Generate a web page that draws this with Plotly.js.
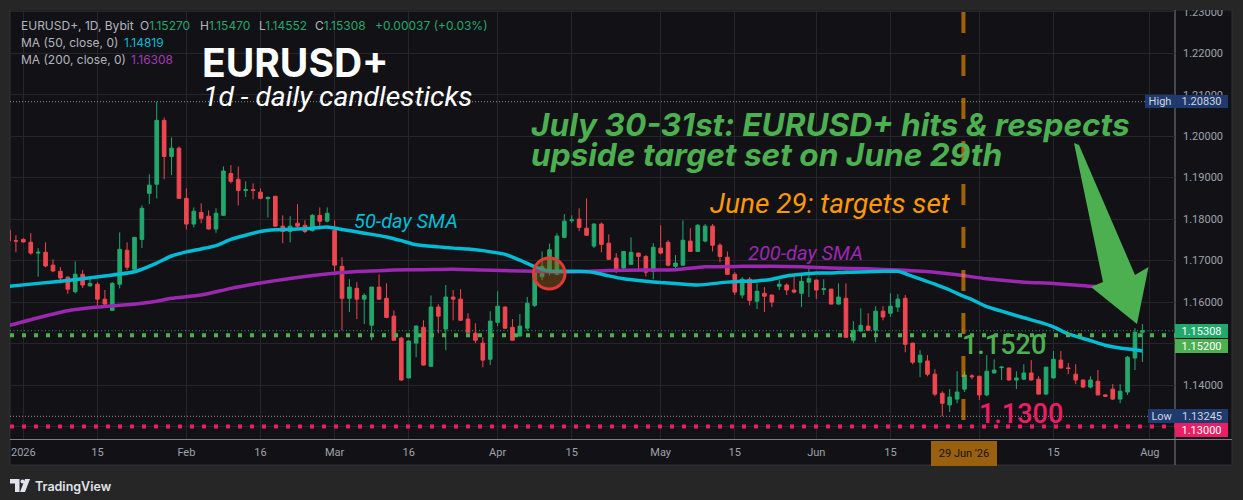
<!DOCTYPE html>
<html><head><meta charset="utf-8">
<script src="https://cdn.plot.ly/plotly-3.0.1.min.js"></script>
<style>html,body{margin:0;padding:0;background:#262626;overflow:hidden}#chart{width:1243px;height:500px}</style>
</head><body><div id="chart"></div>
<script>
// ---------- DATA ----------
const openP = [1.1773,1.1748,1.1751,1.1744,1.1718,1.1720,1.1689,1.1674,1.1660,1.1625,
1.1667,1.1639,1.1643,1.1607,1.1580,1.1643,1.1725,1.1679,1.1751,1.1862,
1.1884,1.2038,1.1951,1.1971,1.1850,1.1788,1.1816,1.1807,1.1776,1.1809,
1.1910,1.1896,1.1869,1.1871,1.1865,1.1849,1.1855,1.1783,1.1770,1.1790,
1.1785,1.1772,1.1809,1.1795,1.1773,1.1686,1.1609,1.1633,1.1607,1.1544,
1.1636,1.1609,1.1566,1.1513,1.1417,1.1501,1.1539,1.1445,1.1588,1.1535,
1.1612,1.1607,1.1559,1.1525,1.1501,1.1462,1.1551,1.1588,1.1539,1.1518,
1.1537,1.1592,1.1661,1.1677,1.1667,1.1756,1.1796,1.1800,1.1778,1.1735,
1.1788,1.1742,1.1706,1.1682,1.1691,1.1718,1.1710,1.1674,1.1730,1.1744,
1.1686,1.1689,1.1747,1.1722,1.1747,1.1783,1.1737,1.1708,1.1667,1.1617,
1.1655,1.1602,1.1621,1.1617,1.1638,1.1641,1.1629,1.1621,1.1648,1.1653,
1.1630,1.1631,1.1595,1.1609,1.1508,1.1530,1.1542,1.1532,1.1578,1.1573,
1.1588,1.1609,1.1501,1.1455,1.1458,1.1426,1.1380,1.1352,1.1366,1.1390,
1.1422,1.1421,1.1376,1.1429,1.1442,1.1441,1.1412,1.1414,1.1429,1.1414,
1.1378,1.1417,1.1460,1.1441,1.1426,1.1412,1.1395,1.1409,1.1376,1.1390,
1.1366,1.1383,1.1465,1.15270];
const highP = [1.1775,1.1761,1.1754,1.1766,1.1730,1.1744,1.1703,1.1684,1.1662,1.1698,
1.1677,1.1659,1.1648,1.1629,1.1648,1.1768,1.1744,1.1756,1.1833,1.1908,
1.2083,1.2045,1.1997,1.1975,1.1874,1.1828,1.1838,1.1821,1.1826,1.1927,
1.1930,1.1927,1.1891,1.1886,1.1874,1.1855,1.1856,1.1809,1.1807,1.1836,
1.1797,1.1812,1.1828,1.1828,1.1797,1.1708,1.1655,1.1648,1.1621,1.1637,
1.1667,1.1645,1.1580,1.1516,1.1508,1.1544,1.1556,1.1616,1.1595,1.1641,
1.1629,1.1631,1.1573,1.1549,1.1515,1.1578,1.1626,1.1589,1.1559,1.1571,
1.1612,1.1689,1.1722,1.1741,1.1766,1.1812,1.1809,1.1826,1.1850,1.1790,
1.1792,1.1763,1.1718,1.1723,1.1756,1.1719,1.1713,1.1742,1.1785,1.1749,
1.1713,1.1797,1.1778,1.1788,1.1788,1.1788,1.1742,1.1722,1.1672,1.1660,
1.1660,1.1645,1.1636,1.1618,1.1653,1.1645,1.1662,1.1665,1.1686,1.1654,
1.1655,1.1632,1.1645,1.1645,1.1554,1.1585,1.1573,1.1590,1.1590,1.1621,
1.1619,1.1617,1.1502,1.1484,1.1472,1.1438,1.1385,1.1390,1.1433,1.1433,
1.1426,1.1422,1.1472,1.1462,1.1445,1.1442,1.1433,1.1450,1.1460,1.1421,
1.1444,1.1482,1.1482,1.1453,1.1450,1.1413,1.1421,1.1436,1.1378,1.1402,
1.1402,1.1470,1.1537,1.15470];
const lowP = [1.1745,1.1720,1.1743,1.1714,1.1661,1.1684,1.1672,1.1645,1.1620,1.1621,
1.1634,1.1637,1.1592,1.1586,1.1579,1.1633,1.1677,1.1670,1.1730,1.1836,
1.1850,1.1896,1.1906,1.1849,1.1775,1.1780,1.1790,1.1775,1.1767,1.1808,
1.1886,1.1833,1.1853,1.1848,1.1848,1.1804,1.1782,1.1742,1.1744,1.1778,
1.1766,1.1770,1.1775,1.1792,1.1673,1.1532,1.1576,1.1559,1.1547,1.1508,
1.1606,1.1561,1.1507,1.1410,1.1416,1.1467,1.1447,1.1444,1.1525,1.1484,
1.1556,1.1555,1.1526,1.1501,1.1443,1.1448,1.1542,1.1535,1.1507,1.1517,
1.1530,1.1588,1.1653,1.1665,1.1665,1.1754,1.1790,1.1771,1.1760,1.1730,
1.1720,1.1702,1.1670,1.1674,1.1690,1.1677,1.1662,1.1655,1.1715,1.1686,
1.1677,1.1688,1.1721,1.1721,1.1744,1.1722,1.1696,1.1666,1.1617,1.1609,
1.1592,1.1583,1.1576,1.1588,1.1629,1.1617,1.1621,1.1588,1.1612,1.1607,
1.1617,1.1595,1.1594,1.1515,1.1501,1.1529,1.1532,1.1503,1.1556,1.1564,
1.1576,1.1479,1.1450,1.1419,1.1421,1.1373,1.13245,1.1335,1.1356,1.1383,
1.1414,1.1364,1.1373,1.1428,1.1412,1.1411,1.1390,1.1413,1.1411,1.1377,
1.1377,1.1416,1.1440,1.1426,1.1402,1.1394,1.1392,1.1376,1.1371,1.1364,
1.1356,1.1376,1.1436,1.14552];
const closeP = [1.1747,1.1747,1.1745,1.1718,1.1720,1.1687,1.1675,1.1658,1.1631,1.1667,
1.1641,1.1645,1.1607,1.1595,1.1645,1.1727,1.1684,1.1756,1.1826,1.1882,
1.2038,1.1951,1.1971,1.1850,1.1788,1.1819,1.1802,1.1776,1.1814,1.1916,
1.1891,1.1869,1.1871,1.1869,1.1850,1.1852,1.1783,1.1770,1.1783,1.1783,
1.1770,1.1809,1.1795,1.1814,1.1689,1.1609,1.1636,1.1607,1.1616,1.1636,
1.1607,1.1563,1.1508,1.1412,1.1506,1.1542,1.1448,1.1588,1.1566,1.1612,
1.1607,1.1556,1.1527,1.1508,1.1460,1.1554,1.1590,1.1537,1.1508,1.1542,
1.1597,1.1677,1.1686,1.1726,1.1759,1.1795,1.1798,1.1780,1.1761,1.1788,
1.1739,1.1703,1.1679,1.1722,1.1720,1.1710,1.1672,1.1732,1.1718,1.1689,
1.1694,1.1749,1.1722,1.1785,1.1783,1.1737,1.1710,1.1667,1.1624,1.1655,
1.1604,1.1626,1.1614,1.1600,1.1643,1.1629,1.1624,1.1650,1.1657,1.1629,
1.1632,1.1595,1.1612,1.1515,1.1532,1.1544,1.1532,1.1578,1.1564,1.1590,
1.1607,1.1498,1.1455,1.1472,1.1426,1.1378,1.1356,1.1371,1.1383,1.1424,
1.1420,1.1376,1.1433,1.1436,1.1443,1.1412,1.1417,1.1429,1.1412,1.1378,
1.1443,1.1462,1.1441,1.1440,1.1412,1.1395,1.1412,1.1376,1.1373,1.1366,
1.1385,1.1467,1.15271,1.15308];

const sma50Idx = [0,4,8,13,17,20,22,24,26,28,30,32,34,36,39,41,43,45,48,51,53,55,58,60,62,64,67,69,71,73,77,79,81,83,86,88,90,93,97,99,101,103,105,107,109,111,113,116,118,120,122,125,127,129,130,132,134,137,139,141,143,146,148,150,152,153];
const sma50Val = [1.1638,1.1645,1.1652,1.1663,1.1673,1.1694,1.1711,1.1721,1.1728,1.1736,1.1751,1.1761,1.1770,1.1774,1.1776,1.1778,1.1781,1.1775,1.1766,1.1757,1.1748,1.1738,1.1733,1.1730,1.1728,1.1724,1.1715,1.1701,1.1685,1.1675,1.1674,1.1671,1.1663,1.1656,1.1650,1.1647,1.1645,1.1641,1.1648,1.1650,1.1651,1.1655,1.1663,1.1667,1.1670,1.1670,1.1672,1.1673,1.1674,1.1674,1.1662,1.1643,1.1629,1.1613,1.1606,1.1589,1.1578,1.1562,1.1552,1.1540,1.1523,1.1507,1.1496,1.1489,1.1485,1.14819];
const sma200Idx = [0,4,8,12,15,18,20,22,26,30,34,38,42,45,48,52,56,60,64,69,73,77,81,86,90,94,99,103,107,111,116,120,125,128,132,137,141,146,150,153];
const sma200Val = [1.1543,1.1562,1.1579,1.1588,1.1592,1.1597,1.1602,1.1609,1.1617,1.1633,1.1646,1.1657,1.1666,1.1671,1.1674,1.1677,1.1678,1.1679,1.1677,1.1675,1.1673,1.1673,1.1676,1.1677,1.1678,1.1685,1.1686,1.1686,1.1685,1.1682,1.1680,1.1677,1.1672,1.1666,1.1656,1.1648,1.1645,1.1638,1.1634,1.16308];

const tickIdx  = [2,12,24,34,44,54,66,76,88,98,109,119,131,141,154];
const tickText = ['2026','15','Feb','16','Mar','16','Apr','15','May','15','Jun','15','Jul','15','Aug'];
const priceTicks = [1.13,1.14,1.15,1.16,1.17,1.18,1.19,1.20,1.21,1.22,1.23];
const targetUp = 1.1520;
const targetDown = 1.1300;
const markIdx = 129;           // June 29 bar
const markLabel = "29 Jun '26";

// ---------- derived ----------
const n = openP.length;
const barIdx = Array.from({length:n},(_, i)=>i);
const last = n-1;
const maxHigh = Math.max(...highP), minLow = Math.min(...lowP);
const chg = closeP[last]-closeP[last-1];
const chgPct = chg/closeP[last-1]*100;

// ---------- geometry helpers (pixels -> paper) ----------
const PL=10, PR=1175, PT=10, PB=439;
const PX = px => (px-PL)/(PR-PL);
const PY = py => (PB-py)/(PB-PT);
const xRange=[0.2,157.4], yRange=[1.12698,1.23041];

const G='#22a86c', RD='#f0464f', CY='#00bcd4', PU='#9c27b0', GRN='#4caf50', PINK='#e91e63', NAVY='#1e3a6e';

const traces = [
 {type:'scatter',mode:'lines',x:sma200Idx,y:sma200Val,line:{color:PU,width:3.5,shape:'spline',smoothing:0.6},hoverinfo:'skip'},
 {type:'scatter',mode:'lines',x:sma50Idx,y:sma50Val,line:{color:CY,width:3.5,shape:'spline',smoothing:0.6},hoverinfo:'skip'},
 {type:'candlestick',x:barIdx,open:openP,high:highP,low:lowP,close:closeP,whiskerwidth:0,
  increasing:{line:{color:G,width:1},fillcolor:G},decreasing:{line:{color:RD,width:1},fillcolor:RD},hoverinfo:'skip'}
];

function pathPx(pts){return 'M'+pts.map(p=>PX(p[0])+','+PY(p[1])).join(' L')+' Z';}

// tick labels hidden behind the price boxes are left blank (boxes cover them in the reference)
const covered = [1.13,1.15];
const priceTickText = priceTicks.map(v=>covered.some(c=>Math.abs(c-v)<1e-9)?'':v.toFixed(5));
const xTickText = tickText.map((t,i)=>tickIdx[i]===131?'':t);

const shapes = [
 {type:'rect',xref:'paper',yref:'paper',x0:PX(10),x1:PX(1232),y0:PY(465),y1:PY(10),fillcolor:'#121216',line:{color:'#303034',width:1},layer:'below'},
 {type:'line',xref:'paper',yref:'paper',x0:PX(1175),x1:PX(1175),y0:PY(465),y1:PY(10),line:{color:'#7b7e87',width:1},layer:'below'},
 {type:'line',xref:'paper',yref:'paper',x0:PX(10),x1:PX(1232),y0:PY(439.5),y1:PY(439.5),line:{color:'#7b7e87',width:1},layer:'below'},
 {type:'line',xref:'paper',yref:'y',x0:0,x1:PX(1145),y0:maxHigh,y1:maxHigh,line:{color:'#8d9099',width:1,dash:'1px,2px'},layer:'above'},
 {type:'line',xref:'paper',yref:'y',x0:0,x1:PX(1148),y0:minLow,y1:minLow,line:{color:'#8d9099',width:1,dash:'1px,2px'},layer:'above'},
 {type:'line',xref:'paper',yref:'y',x0:0,x1:1,y0:closeP[last],y1:closeP[last],line:{color:G,width:1,dash:'1px,2.5px'},layer:'above'},
 {type:'line',xref:'paper',yref:'y',x0:0,x1:1,y0:targetUp,y1:targetUp,line:{color:GRN,width:4,dash:'4px,8px'},layer:'above'},
 {type:'line',xref:'paper',yref:'y',x0:0,x1:1,y0:targetDown,y1:targetDown,line:{color:PINK,width:4,dash:'4px,8px'},layer:'above'},
 {type:'line',xref:'x',yref:'paper',x0:markIdx-0.15,x1:markIdx-0.15,y0:PY(12),y1:0,line:{color:'rgba(255,152,0,0.6)',width:4,dash:'21px,22px'},layer:'above'},
 {type:'circle',xref:'paper',yref:'paper',x0:PX(533.5),x1:PX(565),y0:PY(289),y1:PY(258),fillcolor:'rgba(150,90,20,0.45)',line:{color:'#e53935',width:3},layer:'above'},
 {type:'path',xref:'paper',yref:'paper',path:pathPx([[1074,143],[1079,145],[1135,275],[1148.5,267],[1137,324],[1091,287],[1103,282]]),fillcolor:GRN,line:{width:0},layer:'above'},
 {type:'rect',xref:'paper',yref:'paper',x0:PX(0),x1:PX(1243),y0:PY(10),y1:PY(0),fillcolor:'#262626',line:{width:0},layer:'above'},
 {type:'path',xref:'paper',yref:'paper',path:pathPx([[10,479],[19.5,479],[19.5,492],[15,492],[15,483.5],[10,483.5]]),fillcolor:'#e0e3eb',line:{width:0},layer:'above'},
 {type:'circle',xref:'paper',yref:'paper',x0:PX(20.5),x1:PX(24.5),y0:PY(483.5),y1:PY(479.5),fillcolor:'#e0e3eb',line:{width:0},layer:'above'},
 {type:'path',xref:'paper',yref:'paper',path:pathPx([[25,479],[30,479],[25,492],[20,492]]),fillcolor:'#e0e3eb',line:{width:0},layer:'above'}
];

const fLeg = {family:'Inter, sans-serif',size:12,color:'#b2b5be'};
function txt(text,px,pyc,font,xanchor){return {text:text,x:PX(px),y:PY(pyc),xref:'paper',yref:'paper',xanchor:xanchor||'left',yanchor:'middle',showarrow:false,font:font};}
function box(text,px,pyc,w,h,bg,color,xanchor){return {text:text,x:PX(px),y:PY(pyc),xref:'paper',yref:'paper',xanchor:xanchor||'left',yanchor:'middle',showarrow:false,
  width:w,height:h,bgcolor:bg,borderpad:0,borderwidth:0,align:'center',valign:'middle',font:{family:'Roboto, sans-serif',size:11,color:color||'#ffffff'}};}
const sp = (c,t)=>'<span style="color:'+c+'">'+t+'</span>';
const f5 = v=>v.toFixed(5);

const annotations = [
 txt('EURUSD+, 1D, Bybit',18.5,25,fLeg),
 txt('O'+sp(G,f5(openP[last])),138.3,25,fLeg),
 txt('H'+sp(G,f5(highP[last])),197.7,25,fLeg),
 txt('L'+sp(G,f5(lowP[last])),256.7,25,fLeg),
 txt('C'+sp(G,f5(closeP[last])),313.3,25,fLeg),
 txt(sp(G,(chg>=0?'+':'')+chg.toFixed(5)+' ('+(chgPct>=0?'+':'')+chgPct.toFixed(2)+'%)'),373.3,25,fLeg),
 txt('MA (50, close, 0)',18.5,42.3,fLeg),
 txt(sp(CY,f5(sma50Val[sma50Val.length-1])),122,42.3,fLeg),
 txt('MA (200, close, 0)',18.5,59.6,fLeg),
 txt(sp('#a13bb5',f5(sma200Val[sma200Val.length-1])),129.3,59.6,fLeg),

 txt('EURUSD+',200,62,{family:'Inter, sans-serif',size:39,weight:700,color:'#ffffff'}),
 txt('1d - daily candlesticks',201,96.4,{family:'Roboto, sans-serif',size:28.3,style:'italic',color:'#ffffff'}),
 txt('July 30-31st: EURUSD+ hits &amp; respects',529,124.3,{family:'Inter, sans-serif',size:31.6,weight:700,style:'italic',color:GRN}),
 txt('upside target set on June 29th',529,154.3,{family:'Inter, sans-serif',size:31.6,weight:700,style:'italic',color:GRN}),
 txt('June 29: targets set',708,203.4,{family:'Roboto, sans-serif',size:28,style:'italic',color:'#ff9800'}),
 txt('50-day SMA',352,221,{family:'Roboto, sans-serif',size:20,style:'italic',color:CY}),
 txt('200-day SMA',746,253,{family:'Roboto, sans-serif',size:20,style:'italic',color:PU}),
 txt(targetUp.toFixed(4),960,345,{family:'Roboto, sans-serif',size:27,weight:500,color:GRN}),
 txt(targetDown.toFixed(4),977,414,{family:'Roboto, sans-serif',size:27,weight:500,color:PINK}),

 box('High',1175,101,30,13,NAVY,'#d1d4dc','right'),
 box(f5(maxHigh),1175,101,53,13,NAVY,'#d1d4dc','left'),
 box(f5(closeP[last]),1175,331,53,14,G,'#ffffff','left'),
 box(f5(targetUp),1175,345.5,53,14,GRN,'#ffffff','left'),
 box('Low',1176,416,28,14,NAVY,'#d1d4dc','right'),
 box(f5(minLow),1176,416,52,14,NAVY,'#d1d4dc','left'),
 box(f5(targetDown),1175,430,53,14,PINK,'#ffffff','left'),
 box(markLabel,964,453,66,25,'#98600f','#141414','center'),

 txt('TradingView',33,486,{family:'Inter, sans-serif',size:12.5,weight:600,color:'#e0e3eb'})
];

const layout = {
 width:1243,height:500,margin:{l:10,r:68,t:10,b:61,pad:0},
 paper_bgcolor:'#262626',plot_bgcolor:'#121216',showlegend:false,hovermode:false,dragmode:false,
 xaxis:{range:xRange,tickmode:'array',tickvals:tickIdx,ticktext:xTickText,showgrid:true,gridcolor:'#25252b',gridwidth:1,
   zeroline:false,showline:false,ticks:'',ticklabelstandoff:5,automargin:false,fixedrange:true,
   tickfont:{family:'Roboto, sans-serif',size:11,color:'#9fa2ab'},rangeslider:{visible:false}},
 yaxis:{range:yRange,side:'right',tickmode:'array',tickvals:priceTicks,ticktext:priceTickText,
   showgrid:true,gridcolor:'#25252b',gridwidth:1,zeroline:false,showline:false,ticks:'',ticklabelstandoff:7,automargin:false,fixedrange:true,
   tickfont:{family:'Roboto, sans-serif',size:11,color:'#9fa2ab'}},
 shapes:shapes,annotations:annotations
};
Plotly.newPlot('chart',traces,layout,{staticPlot:true,displayModeBar:false});
</script></body></html>
